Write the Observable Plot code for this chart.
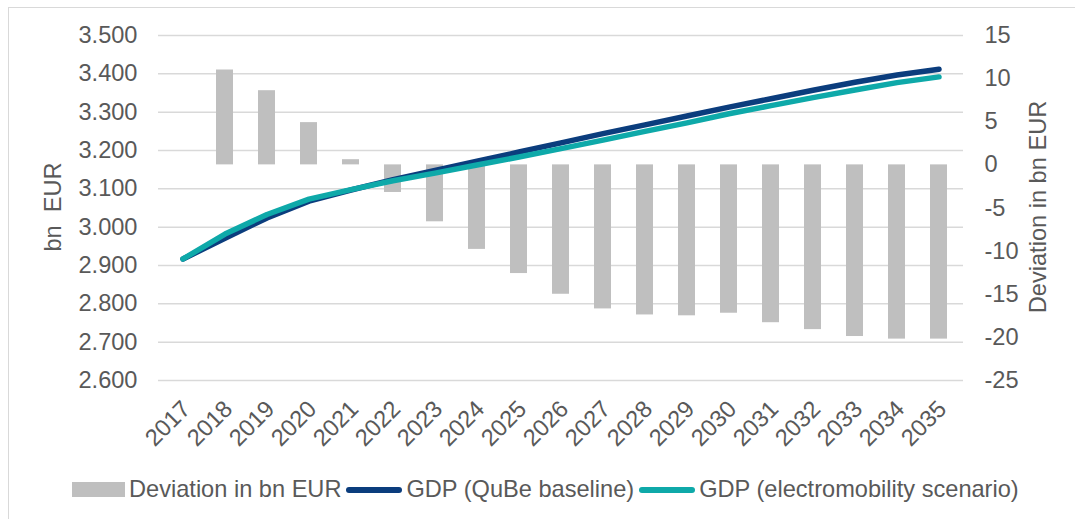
<!DOCTYPE html>
<html>
<head>
<meta charset="utf-8">
<script src="https://cdn.jsdelivr.net/npm/d3@7"></script>
<script src="https://cdn.jsdelivr.net/npm/@observablehq/plot@0.6"></script>
<style>
  html, body { margin: 0; padding: 0; background: #fff; overflow: hidden; }
  body { width: 1075px; height: 519px; position: relative; font-family: "Liberation Sans", Arial, sans-serif; color: #595959; }
  #frame { position: absolute; left: 8px; top: 7px; width: 1200px; height: 700px; border-left: 1.5px solid #d9d9d9; border-top: 1.5px solid #d9d9d9; }
  #chart { position: absolute; left: 0; top: 0; }
  .ytitle { position: absolute; font-size: 23.6px; white-space: pre; transform: translate(-50%, -50%) rotate(-90deg); line-height: 1; }
  #legend { position: absolute; left: 72px; top: 478px; display: flex; align-items: center; font-size: 23.6px; white-space: pre; line-height: 1; }
  .sw-bar { width: 53px; height: 15px; background: #bfbfbf; margin-right: 4px; }
  .sw-line { width: 56px; height: 5.5px; border-radius: 3px; margin: 0 4px 0 5px; }
</style>
</head>
<body>
<div id="frame"></div>
<div id="chart"></div>
<div class="ytitle" style="left:54px; top:207px;">bn  EUR</div>
<div class="ytitle" style="left:1039px; top:207px;">Deviation in bn EUR</div>
<div id="legend"></div>
<script>
// ---- data ----
const years = ["2017","2018","2019","2020","2021","2022","2023","2024","2025","2026","2027","2028","2029","2030","2031","2032","2033","2034","2035"];
const gdpBaseline = [2917, 2971, 3024, 3068, 3097, 3124, 3148, 3172, 3196, 3220, 3244, 3267, 3290, 3313, 3335, 3357, 3378, 3397, 3412];
const gdpElectro  = [2917, 2982, 3033, 3073, 3098, 3121, 3141, 3162, 3183, 3205, 3227, 3250, 3272, 3296, 3317, 3338, 3358, 3377, 3392];
const deviation   = [0, 11.0, 8.6, 4.9, 0.6, -3.2, -6.6, -9.8, -12.6, -15.0, -16.7, -17.4, -17.5, -17.2, -18.3, -19.1, -19.9, -20.2, -20.2];
const leftTicks  = [2600, 2700, 2800, 2900, 3000, 3100, 3200, 3300, 3400, 3500];
const rightTicks = [-25, -20, -15, -10, -5, 0, 5, 10, 15];
const seriesNames = ["Deviation in bn EUR", "GDP (QuBe baseline)", "GDP (electromobility scenario)"];
const colors = { bar: "#bfbfbf", base: "#0b3d7d", electro: "#0ea9a9", grid: "#d9d9d9", text: "#595959" };

// ---- tables ----
const rows = years.map((y, i) => ({ year: y, base: gdpBaseline[i], electro: gdpElectro[i], dev: deviation[i] }));
// right axis (deviation) mapped into the left axis domain
const devToLeft = d3.scaleLinear([-25, 15], [2600, 3500]);
const fmtLeft = d3.formatLocale({ decimal: ",", thousands: ".", grouping: [3], currency: ["", "€"] }).format(",");
const fs = 23.6;

const plot = Plot.plot({
  width: 1075,
  height: 460,
  marginTop: 35,
  marginBottom: 80,
  marginLeft: 158,
  marginRight: 112,
  style: { fontFamily: '"Liberation Sans", Arial, sans-serif', fontSize: fs + "px", color: colors.text, background: "transparent" },
  x: { type: "band", domain: years, paddingInner: 0.6, paddingOuter: 0.3, axis: null },
  y: { domain: [2600, 3500], axis: null },
  marks: [
    Plot.gridY(leftTicks, { stroke: colors.grid, strokeOpacity: 1, strokeWidth: 1.5 }),
    Plot.axisY(leftTicks, { anchor: "left", tickSize: 0, tickPadding: 21, tickFormat: fmtLeft, fontSize: fs, fill: colors.text, label: null }),
    Plot.axisY(rightTicks.map(devToLeft), { anchor: "right", tickSize: 0, tickPadding: 21, tickFormat: v => String(Math.round(devToLeft.invert(v))), fontSize: fs, fill: colors.text, label: null }),
    Plot.barY(rows.filter(d => d.dev !== 0), { x: "year", y1: d => devToLeft(0), y2: d => devToLeft(d.dev), fill: colors.bar }),
    Plot.line(rows, { x: "year", y: "base", stroke: colors.base, strokeWidth: 5.5, strokeLinecap: "round", strokeLinejoin: "round" }),
    Plot.line(rows, { x: "year", y: "electro", stroke: colors.electro, strokeWidth: 5.5, strokeLinecap: "round", strokeLinejoin: "round" }),
    Plot.text(years, { x: d => d, frameAnchor: "bottom", rotate: -45, textAnchor: "end", lineAnchor: "top", dy: 18, dx: -3, fontSize: fs, fill: colors.text })
  ]
});
document.getElementById("chart").appendChild(plot);

// ---- legend ----
const legend = document.getElementById("legend");
const swatchClass = ["sw-bar", "sw-line", "sw-line"];
const swatchColor = [colors.bar, colors.base, colors.electro];
seriesNames.forEach((name, i) => {
  const sw = document.createElement("span");
  sw.className = swatchClass[i];
  sw.style.background = swatchColor[i];
  sw.style.display = "inline-block";
  legend.appendChild(sw);
  const t = document.createElement("span");
  t.textContent = name;
  legend.appendChild(t);
});
</script>
</body>
</html>
